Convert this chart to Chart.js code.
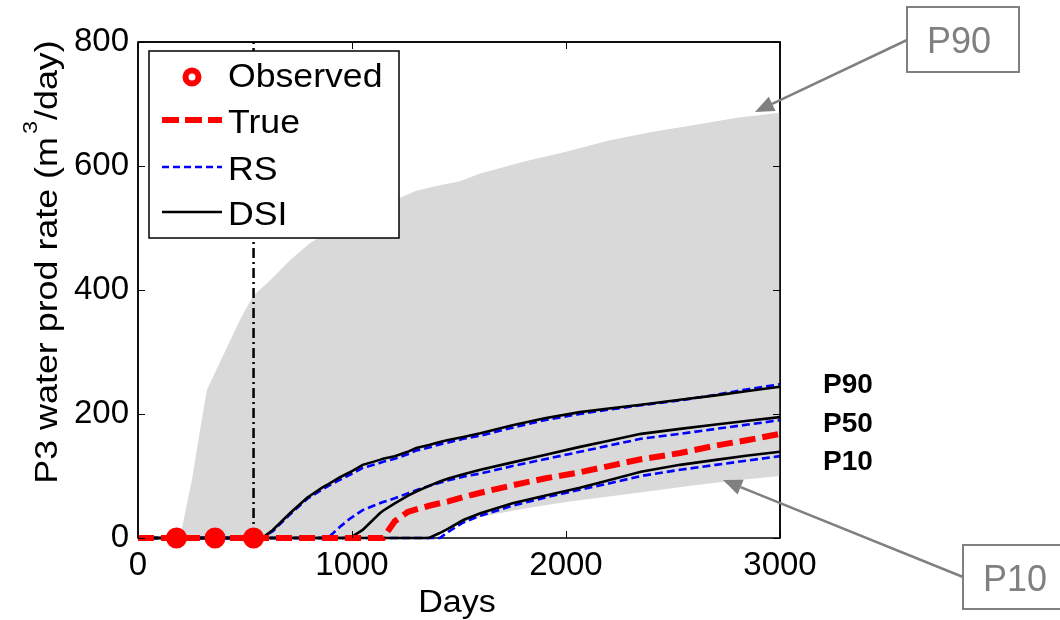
<!DOCTYPE html>
<html>
<head>
<meta charset="utf-8">
<script src="https://cdn.jsdelivr.net/npm/chart.js@4.4.1/dist/chart.umd.min.js"></script>
<style>
  html, body { margin: 0; padding: 0; background: #fff; }
  #wrap { width: 1060px; height: 620px; }
  canvas { display: block; }
</style>
</head>
<body>
<div id="wrap"><canvas id="myChart" width="1060" height="620"></canvas></div>
<script>
// values
const xTicks = [0, 1000, 2000, 3000];
const yTicks = [0, 200, 400, 600, 800];

const obsDays = [180, 360, 540];
const obsRate = [0, 0, 0];

const cutoffDays = [540, 540];
const cutoffRate = [0, 800];

// grey envelope of the prior ensemble
const bandDays = [0, 196, 252, 290, 322, 400, 477, 537, 631, 710, 804, 900, 1000, 1100, 1200, 1300, 1350,
  1400, 1500, 1600, 1800, 2000, 2200, 2400, 2600, 2800, 3000];
const bandHigh = [0, 0, 94, 174, 239, 296, 352, 390, 420, 448, 476, 495, 512, 530, 545, 560, 564,
  568, 575, 588, 607, 623, 641, 655, 666, 678, 686];
const bandLow = [0, 0, 0, 0, 0, 0, 0, 0, 0, 0, 0, 0, 0, 0, 0, 0, 0,
  4, 22, 34, 47, 58, 67, 76, 85, 93, 100];

const days = [0, 580, 630, 710, 790, 864, 890, 944, 990, 1050, 1130, 1145, 1200, 1260, 1300, 1360, 1410,
  1450, 1520, 1600, 1750, 1900, 2065, 2200, 2350, 2533, 2700, 2850, 3000];
const trueRate = [0, 0, 0, 0, 0, 0, 0, 0, 0, 0, 0, 0, 27, 42, 46, 52, 56,
  59, 66, 73, 85, 96, 106, 116, 127, 137, 149, 158, 168];
const dsiP90 = [0, 0, 13, 40, 65, 82, 87, 98, 106, 118, 126, 128, 132, 139, 145, 150, 155,
  158, 163, 169, 182, 193, 203, 209, 215, 223, 230, 237, 244];
const rsP90 = [0, 0, 11, 38, 63, 79, 84, 94, 102, 113, 121, 123, 128, 135, 141, 146, 151,
  154, 160, 165, 178, 190, 200, 207, 214, 222, 231, 240, 248];
const dsiP50 = [0, 0, 0, 0, 0, 0, 0, 0, 0, 13, 40, 44, 56, 68, 75, 84, 91,
  96, 103, 110, 122, 134, 147, 157, 168, 176, 183, 189, 195];
const rsP50 = [0, 0, 0, 0, 0, 0, 1, 18, 31, 45, 56, 58, 64, 72, 77, 84, 89,
  93, 99, 104, 116, 127, 139, 149, 160, 168, 176, 183, 190];
const dsiP10 = [0, 0, 0, 0, 0, 0, 0, 0, 0, 0, 0, 0, 0, 0, 0, 0, 8,
  15, 29, 40, 56, 68, 81, 93, 107, 118, 126, 133, 139];
const rsP10 = [0, 0, 0, 0, 0, 0, 0, 0, 0, 0, 0, 0, 0, 0, 0, 0, 0,
  10, 25, 36, 52, 65, 78, 88, 100, 110, 118, 125, 132];

const pts = (xs, ys) => xs.map((x, i) => ({ x: x, y: ys[i] }));

const FONT = '"Liberation Sans", Arial, sans-serif';
const GREY = '#808080';

function stretchText(ctx, s, x, y, size, opts) {
  opts = opts || {};
  const sx = opts.sx || 1;
  ctx.save();
  ctx.font = (opts.bold ? 'bold ' : '') + size + 'px ' + FONT;
  ctx.fillStyle = opts.color || '#000';
  ctx.textBaseline = 'alphabetic';
  ctx.textAlign = 'left';
  const w = ctx.measureText(s).width * sx;
  let x0 = x;
  if (opts.align === 'center') x0 = x - w / 2;
  if (opts.align === 'right') x0 = x - w;
  ctx.translate(x0, y);
  ctx.scale(sx, 1);
  ctx.fillText(s, 0, 0);
  ctx.restore();
  return w;
}

function arrow(ctx, x1, y1, x2, y2) {
  const a = Math.atan2(y2 - y1, x2 - x1);
  const len = 19, half = 8;
  const bx = x2 - len * Math.cos(a), by = y2 - len * Math.sin(a);
  ctx.save();
  ctx.strokeStyle = GREY;
  ctx.fillStyle = GREY;
  ctx.lineWidth = 2.5;
  ctx.beginPath();
  ctx.moveTo(x1, y1);
  ctx.lineTo(bx, by);
  ctx.stroke();
  ctx.beginPath();
  ctx.moveTo(x2, y2);
  ctx.lineTo(bx + half * Math.sin(a), by - half * Math.cos(a));
  ctx.lineTo(bx - half * Math.sin(a), by + half * Math.cos(a));
  ctx.closePath();
  ctx.fill();
  ctx.restore();
}

function labelBox(ctx, x, y, w, h, s) {
  ctx.save();
  ctx.fillStyle = '#fff';
  ctx.fillRect(x, y, w, h);
  ctx.strokeStyle = GREY;
  ctx.lineWidth = 2;
  ctx.strokeRect(x, y, w, h);
  ctx.restore();
  stretchText(ctx, s, x + 20, y + 46, 36, { color: GREY });
}

const ink = {
  id: 'ink',
  beforeDraw(chart) {
    const ctx = chart.ctx;
    ctx.save();
    ctx.fillStyle = '#fff';
    ctx.fillRect(0, 0, chart.width, chart.height);
    ctx.restore();
  },
  beforeDatasetsDraw(chart) {
    // plot frame and inward ticks, under the curves
    const ctx = chart.ctx;
    const a = chart.chartArea;
    const xs = chart.scales.x, ys = chart.scales.y;
    ctx.save();
    ctx.strokeStyle = '#000';
    ctx.lineWidth = 1.5;
    ctx.strokeRect(a.left, a.top, a.right - a.left, a.bottom - a.top);
    ctx.restore();
  },
  afterDatasetsDraw(chart) {
    const ctx = chart.ctx;
    const a = chart.chartArea;
    const xs = chart.scales.x, ys = chart.scales.y;
    ctx.save();
    ctx.strokeStyle = '#000';
    ctx.lineWidth = 1.5;
    ctx.beginPath();
    ctx.moveTo(a.left, a.top); ctx.lineTo(a.right, a.top); ctx.lineTo(a.right, a.bottom);
    ctx.moveTo(a.left, a.top); ctx.lineTo(a.left, a.bottom);
    ctx.stroke();
    ctx.beginPath();
    xTicks.forEach(v => {
      const p = Math.round(xs.getPixelForValue(v)) + 0.5;
      ctx.moveTo(p, a.bottom); ctx.lineTo(p, a.bottom - 7);
      ctx.moveTo(p, a.top); ctx.lineTo(p, a.top + 7);
    });
    yTicks.forEach(v => {
      const p = Math.round(ys.getPixelForValue(v)) + 0.5;
      ctx.moveTo(a.left, p); ctx.lineTo(a.left + 7, p);
      ctx.moveTo(a.right, p); ctx.lineTo(a.right - 7, p);
    });
    ctx.lineWidth = 1;
    ctx.stroke();
    ctx.restore();
  },
  afterDraw(chart) {
    const ctx = chart.ctx;

    // legend
    ctx.save();
    ctx.fillStyle = '#fff';
    ctx.fillRect(149, 51, 250, 187);
    ctx.strokeStyle = '#000';
    ctx.lineWidth = 1.5;
    ctx.strokeRect(149, 51, 250, 187);

    ctx.beginPath();
    ctx.arc(192, 77, 6.5, 0, Math.PI * 2);
    ctx.strokeStyle = '#ff0000';
    ctx.lineWidth = 6;
    ctx.stroke();

    ctx.setLineDash([17, 6]);
    ctx.lineWidth = 6;
    ctx.beginPath(); ctx.moveTo(162, 120); ctx.lineTo(222, 120); ctx.stroke();

    ctx.setLineDash([7, 4]);
    ctx.lineWidth = 2.5;
    ctx.strokeStyle = '#0000ff';
    ctx.beginPath(); ctx.moveTo(162, 167); ctx.lineTo(222, 167); ctx.stroke();

    ctx.setLineDash([]);
    ctx.strokeStyle = '#000';
    ctx.beginPath(); ctx.moveTo(162, 212); ctx.lineTo(222, 212); ctx.stroke();
    ctx.restore();

    stretchText(ctx, 'Observed', 228, 87, 33, { sx: 1.08 });
    stretchText(ctx, 'True', 228, 133, 33, { sx: 1.08 });
    stretchText(ctx, 'RS', 228, 180, 33, { sx: 1.08 });
    stretchText(ctx, 'DSI', 228, 225, 33, { sx: 1.08 });

    // axis titles
    stretchText(ctx, 'Days', 457, 612, 31, { align: 'center', sx: 1.1 });

    ctx.save();
    ctx.translate(57, 262);
    ctx.rotate(-Math.PI / 2);
    const sx = 1.12;
    const p1 = 'P3 water prod rate (m', p2 = '/day)';
    ctx.font = '32px ' + FONT;
    const w1 = ctx.measureText(p1).width * sx;
    const w3 = ctx.measureText(p2).width * sx;
    ctx.font = '21px ' + FONT;
    const w2 = ctx.measureText('3').width * sx + 4;
    const total = w1 + w2 + w3;
    const x0 = -total / 2;
    stretchText(ctx, p1, x0, 0, 32, { sx: sx });
    stretchText(ctx, '3', x0 + w1 + 3, -20, 21, { sx: sx });
    stretchText(ctx, p2, x0 + w1 + w2, 0, 32, { sx: sx });
    ctx.restore();

    // percentile tags at the right end
    stretchText(ctx, 'P90', 823, 393, 28, { bold: true });
    stretchText(ctx, 'P50', 823, 432, 28, { bold: true });
    stretchText(ctx, 'P10', 823, 470, 28, { bold: true });

    // callouts
    arrow(ctx, 907, 40, 755, 112);
    labelBox(ctx, 907, 7, 112, 65, 'P90');
    arrow(ctx, 963, 577, 723, 480);
    labelBox(ctx, 963, 545, 110, 64, 'P10');
  }
};

const lineDs = (label, ys, color, width, dash, order) => ({
  label: label,
  data: pts(days, ys),
  showLine: true,
  borderColor: color,
  borderWidth: width,
  borderDash: dash,
  pointRadius: 0,
  fill: false,
  tension: 0,
  clip: 5,
  order: order,
});

new Chart(document.getElementById('myChart'), {
  type: 'scatter',
  data: {
    datasets: [
      {
        label: 'Observed',
        data: pts(obsDays, obsRate),
        showLine: false,
        pointRadius: 9,
        pointBackgroundColor: '#ff0000',
        pointBorderColor: '#ff0000',
        pointBorderWidth: 3,
        clip: false,
        order: 1,
      },
      {
        label: 'cutoff',
        data: pts(cutoffDays, cutoffRate),
        showLine: true,
        borderColor: '#000',
        borderWidth: 2.5,
        borderDash: [10, 4, 2, 4],
        pointRadius: 0,
        order: 2,
      },
      lineDs('True', trueRate, '#ff0000', 6, [16, 7], 3),
      lineDs('DSI P90', dsiP90, '#000', 2.6, [], 4),
      lineDs('DSI P50', dsiP50, '#000', 2.6, [], 4),
      lineDs('DSI P10', dsiP10, '#000', 2.6, [], 4),
      lineDs('RS P90', rsP90, '#0000ff', 2.6, [8, 4], 5),
      lineDs('RS P50', rsP50, '#0000ff', 2.6, [8, 4], 5),
      lineDs('RS P10', rsP10, '#0000ff', 2.6, [8, 4], 5),
      {
        label: 'band high',
        data: pts(bandDays, bandHigh),
        showLine: true,
        borderWidth: 0,
        borderColor: 'rgba(0,0,0,0)',
        backgroundColor: '#d9d9d9',
        pointRadius: 0,
        fill: '+1',
        order: 10,
      },
      {
        label: 'band low',
        data: pts(bandDays, bandLow),
        showLine: true,
        borderWidth: 0,
        borderColor: 'rgba(0,0,0,0)',
        pointRadius: 0,
        fill: false,
        order: 11,
      },
    ],
  },
  options: {
    responsive: false,
    animation: false,
    devicePixelRatio: 1,
    layout: { padding: { left: 0, top: 42, right: 280, bottom: 0 } },
    plugins: {
      legend: { display: false },
      tooltip: { enabled: false },
    },
    scales: {
      x: {
        type: 'linear',
        min: 0,
        max: 3000,
        afterBuildTicks: (s) => { s.ticks = xTicks.map(v => ({ value: v })); },
        afterFit: (s) => { s.height = 82; },
        grid: { display: false, drawTicks: false },
        border: { display: false },
        ticks: { color: '#000', padding: 8, maxRotation: 0, callback: (v) => String(v), font: { size: 33, family: FONT } },
      },
      y: {
        type: 'linear',
        min: 0,
        max: 800,
        afterBuildTicks: (s) => { s.ticks = yTicks.map(v => ({ value: v })); },
        afterFit: (s) => { s.width = 138; },
        grid: { display: false, drawTicks: false },
        border: { display: false },
        ticks: { color: '#000', padding: 9, callback: (v) => String(v), font: { size: 33, family: FONT } },
      },
    },
  },
  plugins: [ink],
});
</script>
</body>
</html>
